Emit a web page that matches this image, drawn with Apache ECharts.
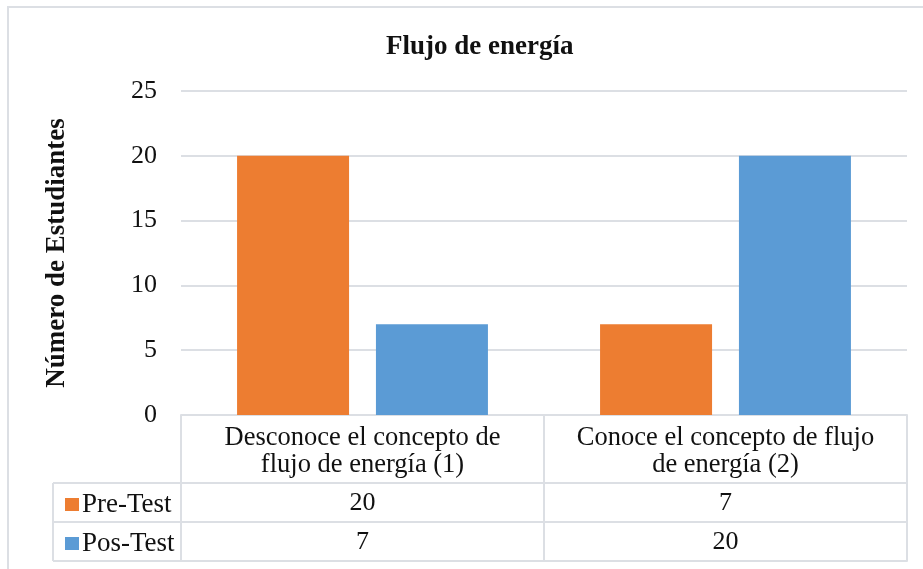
<!DOCTYPE html>
<html>
<head>
<meta charset="utf-8">
<script src="https://cdn.jsdelivr.net/npm/echarts@6/dist/echarts.min.js"></script>
<style>
  html, body { margin: 0; padding: 0; background: #fff; }
  #chart { width: 923px; height: 569px; }
</style>
</head>
<body>
<div id="chart"></div>
<script>
// Categories (header row of the data table) and series values
const categories = ['Desconoce el concepto de\nflujo de energía (1)', 'Conoce el concepto de flujo\nde energía (2)'];
const seriesNames = ['Pre-Test', 'Pos-Test'];
const preTest = [20, 7];
const posTest = [7, 20];
const yTicks = { min: 0, max: 25, interval: 5 };

const FONT = '"Liberation Serif", "Times New Roman", serif';
const LINE = '#DCDFE4';
const COLORS = ['#ED7D31', '#5B9BD5'];

// Plot area and table geometry
const G = { left: 181, right: 16, top: 91, bottom: 154 };
const plotBottom = 569 - G.bottom;      // 415
const headerH = 68, rowH = 39;
const row1 = plotBottom + headerH;      // 483
const row2 = row1 + rowH;               // 522
const row3 = row2 + rowH;               // 561
const legendLeft = 53;

const chart = echarts.init(document.getElementById('chart'), null, { renderer: 'canvas' });

function tableAxis(values, offset, tickLen, showLabels) {
  return {
    type: 'category',
    position: 'bottom',
    offset: offset,
    data: values.map(String),
    axisLine: { show: true, lineStyle: { color: LINE, width: 2 } },
    axisTick: { show: tickLen > 0, length: tickLen, interval: 0, lineStyle: { color: LINE, width: 2 } },
    axisLabel: {
      show: showLabels, interval: 0, margin: 7,
      fontFamily: FONT, fontSize: 26, color: '#111', lineHeight: 26
    },
    splitLine: { show: false }
  };
}

const option = {
  animation: false,
  backgroundColor: '#fff',
  title: {
    text: 'Flujo de energía',
    left: 381, top: 29,
    textStyle: { fontFamily: FONT, fontSize: 27, fontWeight: 'bold', color: '#111' }
  },
  legend: {
    data: seriesNames,
    orient: 'vertical',
    left: legendLeft + 7, top: row1 + 3,
    icon: 'rect', itemWidth: 14, itemHeight: 13, itemGap: 12,
    selectedMode: false,
    textStyle: { fontFamily: FONT, fontSize: 27, color: '#111', lineHeight: 27, padding: [0, 0, 0, -2] }
  },
  grid: Object.assign({ outerBoundsMode: 'none', containLabel: false }, G),
  xAxis: [
    {
      type: 'category',
      position: 'bottom',
      data: categories,
      axisLine: { show: true, lineStyle: { color: LINE, width: 2 } },
      axisTick: { show: true, length: headerH, interval: 0, lineStyle: { color: LINE, width: 2 } },
      axisLabel: {
        interval: 0, margin: 10,
        fontFamily: FONT, fontSize: 26.5, color: '#111', lineHeight: 27
      }
    },
    tableAxis(preTest, headerH, rowH, true),
    tableAxis(posTest, headerH + rowH, rowH, true),
    tableAxis(['', ''], headerH + 2 * rowH, 0, false)
  ],
  yAxis: {
    type: 'value',
    min: yTicks.min, max: yTicks.max, interval: yTicks.interval,
    name: 'Número de Estudiantes',
    nameLocation: 'middle',
    nameGap: 110,
    nameTextStyle: { fontFamily: FONT, fontSize: 27, fontWeight: 'bold', color: '#111' },
    axisLine: { show: false },
    axisTick: { show: false },
    axisLabel: { fontFamily: FONT, fontSize: 26, color: '#111', margin: 24 },
    splitLine: { lineStyle: { color: LINE, width: 2 } }
  },
  series: [
    { name: seriesNames[0], type: 'bar', data: preTest, barWidth: 112, barGap: '24%',
      itemStyle: { color: COLORS[0] } },
    { name: seriesNames[1], type: 'bar', data: posTest, barWidth: 112, barGap: '24%',
      itemStyle: { color: COLORS[1] } }
  ],
  graphic: [
    // outer frame
    { type: 'rect', shape: { x: 8, y: 7, width: 930, height: 600 },
      style: { fill: 'none', stroke: LINE, lineWidth: 2 }, silent: true },
    // legend column of the data table
    { type: 'line', shape: { x1: legendLeft, y1: row1, x2: G.left, y2: row1 }, style: { stroke: LINE, lineWidth: 2 } },
    { type: 'line', shape: { x1: legendLeft, y1: row2, x2: G.left, y2: row2 }, style: { stroke: LINE, lineWidth: 2 } },
    { type: 'line', shape: { x1: legendLeft, y1: row3, x2: G.left, y2: row3 }, style: { stroke: LINE, lineWidth: 2 } },
    { type: 'line', shape: { x1: legendLeft, y1: row1, x2: legendLeft, y2: row3 }, style: { stroke: LINE, lineWidth: 2 } }
  ]
};

chart.setOption(option);
</script>
</body>
</html>
